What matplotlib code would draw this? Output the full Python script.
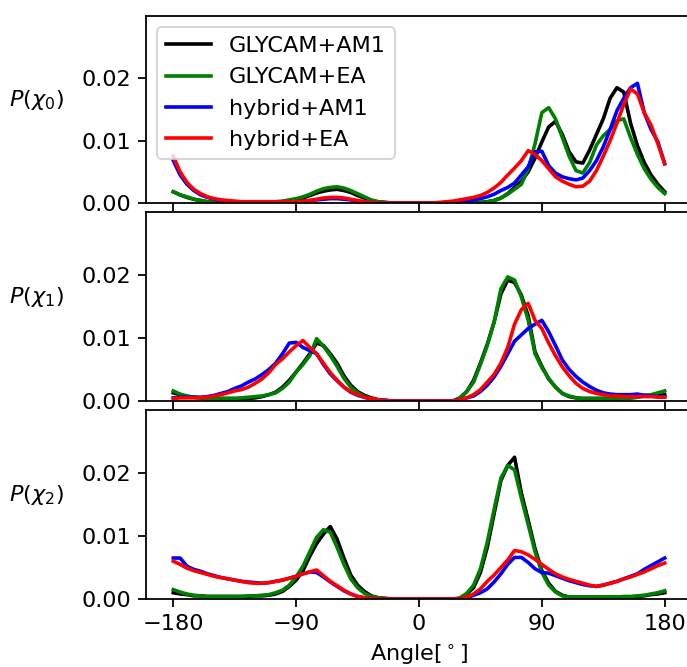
import numpy as np
import matplotlib
matplotlib.use("Agg")
import matplotlib.pyplot as plt
from matplotlib.ticker import FormatStrFormatter

# bin centres (degrees)
angles = np.arange(-180, 181, 5)

series_labels = ["GLYCAM+AM1", "GLYCAM+EA", "hybrid+AM1", "hybrid+EA"]
series_colors = ["k", "g", "b", "r"]
panel_ylabels = [r"$P(\chi_0)$", r"$P(\chi_1)$", r"$P(\chi_2)$"]
xtick_values = [-180, -90, 0, 90, 180]
ytick_values = [0.0, 0.01, 0.02]

# ---- chi0 ----
chi0_glycam_am1 = [
    0.0018, 0.0013, 0.0009, 0.0006, 0.0004, 0.0002, 0.0001, 0.0001, 0.0001, 0.0001, 0.0001, 0.0001,
    0.0001, 0.0001, 0.0001, 0.0001, 0.0002, 0.0003, 0.0005, 0.0008, 0.0012, 0.0016, 0.0019, 0.0021,
    0.0022, 0.0020, 0.0017, 0.0012, 0.0008, 0.0004, 0.0002, 0.0001, 0, 0, 0, 0,
    0, 0, 0, 0, 0, 0, 0, 0, 0, 0.0001, 0.0002, 0.0004,
    0.0008, 0.0015, 0.0025, 0.0035, 0.0050, 0.0072, 0.0098, 0.0122, 0.0131, 0.0110, 0.0082, 0.0066,
    0.0064, 0.0085, 0.0110, 0.0135, 0.0168, 0.0185, 0.0178, 0.0128, 0.0092, 0.0065, 0.0045, 0.0030,
    0.0018]
chi0_glycam_ea = [
    0.0018, 0.0013, 0.0010, 0.0006, 0.0004, 0.0002, 0.0001, 0.0001, 0.0001, 0.0001, 0.0001, 0.0001,
    0.0001, 0.0001, 0.0001, 0.0002, 0.0003, 0.0005, 0.0007, 0.0010, 0.0014, 0.0019, 0.0023, 0.0025,
    0.0026, 0.0024, 0.0020, 0.0015, 0.0010, 0.0005, 0.0002, 0.0001, 0, 0, 0, 0,
    0, 0, 0, 0, 0, 0, 0, 0, 0, 0, 0.0002, 0.0004,
    0.0008, 0.0014, 0.0022, 0.0030, 0.0055, 0.0095, 0.0145, 0.0153, 0.0135, 0.0105, 0.0075, 0.0052,
    0.0048, 0.0065, 0.0093, 0.0108, 0.0118, 0.0132, 0.0135, 0.0105, 0.0078, 0.0055, 0.0038, 0.0025,
    0.0015]
chi0_hybrid_am1 = [
    0.0068, 0.0045, 0.0030, 0.0020, 0.0013, 0.0009, 0.0006, 0.0004, 0.0003, 0.0002, 0.0002, 0.0002,
    0.0002, 0.0002, 0.0002, 0.0002, 0.0002, 0.0002, 0.0002, 0.0003, 0.0004, 0.0005, 0.0006, 0.0007,
    0.0007, 0.0006, 0.0005, 0.0003, 0.0002, 0.0001, 0, 0, 0, 0, 0, 0,
    0, 0, 0, 0, 0.0001, 0.0002, 0.0003, 0.0004, 0.0005, 0.0007, 0.0010, 0.0014,
    0.0020, 0.0025, 0.0032, 0.0045, 0.0058, 0.0082, 0.0083, 0.0060, 0.0048, 0.0042, 0.0039, 0.0037,
    0.0040, 0.0052, 0.0068, 0.0090, 0.0118, 0.0148, 0.0168, 0.0185, 0.0192, 0.0145, 0.0118, 0.0098,
    0.0063]
chi0_hybrid_ea = [
    0.0075, 0.0050, 0.0033, 0.0022, 0.0015, 0.0010, 0.0007, 0.0005, 0.0004, 0.0003, 0.0002, 0.0002,
    0.0002, 0.0002, 0.0002, 0.0002, 0.0002, 0.0002, 0.0002, 0.0003, 0.0004, 0.0006, 0.0008, 0.0009,
    0.0009, 0.0008, 0.0006, 0.0004, 0.0002, 0.0001, 0, 0, 0, 0, 0, 0,
    0, 0, 0, 0.0001, 0.0002, 0.0003, 0.0005, 0.0007, 0.0009, 0.0012, 0.0017, 0.0024,
    0.0033, 0.0045, 0.0056, 0.0068, 0.0084, 0.0078, 0.0068, 0.0055, 0.0042, 0.0035, 0.0030, 0.0026,
    0.0027, 0.0035, 0.0052, 0.0075, 0.0100, 0.0128, 0.0158, 0.0183, 0.0175, 0.0145, 0.0125, 0.0095,
    0.0063]

# ---- chi1 ----
chi1_glycam_am1 = [
    0.0013, 0.0010, 0.0007, 0.0006, 0.0005, 0.0004, 0.0004, 0.0004, 0.0004, 0.0004, 0.0004, 0.0004,
    0.0005, 0.0007, 0.0010, 0.0014, 0.0022, 0.0033, 0.0046, 0.0060, 0.0075, 0.0092, 0.0088, 0.0075,
    0.0060, 0.0040, 0.0025, 0.0015, 0.0009, 0.0005, 0.0002, 0.0001, 0, 0, 0, 0,
    0, 0, 0, 0, 0, 0, 0.0005, 0.0015, 0.0033, 0.0060, 0.0090, 0.0125,
    0.0170, 0.0192, 0.0188, 0.0168, 0.0135, 0.0078, 0.0055, 0.0035, 0.0022, 0.0012, 0.0007, 0.0005,
    0.0004, 0.0004, 0.0004, 0.0004, 0.0004, 0.0004, 0.0004, 0.0005, 0.0006, 0.0009, 0.0009, 0.0008,
    0.0010]
chi1_glycam_ea = [
    0.0016, 0.0011, 0.0008, 0.0006, 0.0005, 0.0004, 0.0004, 0.0004, 0.0004, 0.0004, 0.0005, 0.0006,
    0.0007, 0.0008, 0.0010, 0.0013, 0.0020, 0.0030, 0.0046, 0.0058, 0.0072, 0.0099, 0.0087, 0.0072,
    0.0055, 0.0036, 0.0022, 0.0013, 0.0007, 0.0004, 0.0002, 0.0001, 0, 0, 0, 0,
    0, 0, 0, 0, 0, 0, 0.0005, 0.0015, 0.0030, 0.0058, 0.0088, 0.0125,
    0.0178, 0.0197, 0.0192, 0.0165, 0.0128, 0.0075, 0.0053, 0.0036, 0.0022, 0.0012, 0.0008, 0.0005,
    0.0004, 0.0004, 0.0004, 0.0004, 0.0004, 0.0004, 0.0004, 0.0005, 0.0006, 0.0008, 0.0010, 0.0013,
    0.0016]
chi1_hybrid_am1 = [
    0.0005, 0.0006, 0.0006, 0.0006, 0.0006, 0.0007, 0.0009, 0.0012, 0.0015, 0.0020, 0.0024, 0.0030,
    0.0035, 0.0042, 0.0050, 0.0060, 0.0075, 0.0092, 0.0093, 0.0085, 0.0080, 0.0075, 0.0058, 0.0043,
    0.0032, 0.0022, 0.0014, 0.0009, 0.0006, 0.0003, 0.0002, 0.0001, 0, 0, 0, 0,
    0, 0, 0, 0, 0, 0, 0.0002, 0.0005, 0.0008, 0.0015, 0.0025, 0.0038,
    0.0055, 0.0075, 0.0095, 0.0105, 0.0115, 0.0122, 0.0128, 0.0110, 0.0088, 0.0065, 0.0050, 0.0039,
    0.0030, 0.0023, 0.0017, 0.0013, 0.0011, 0.0010, 0.0010, 0.0010, 0.0011, 0.0009, 0.0008, 0.0007,
    0.0007]
chi1_hybrid_ea = [
    0.0004, 0.0005, 0.0005, 0.0005, 0.0005, 0.0006, 0.0008, 0.0010, 0.0013, 0.0016, 0.0018, 0.0022,
    0.0028, 0.0035, 0.0045, 0.0058, 0.0067, 0.0078, 0.0088, 0.0096, 0.0085, 0.0075, 0.0060, 0.0045,
    0.0033, 0.0022, 0.0015, 0.0010, 0.0006, 0.0004, 0.0002, 0.0001, 0, 0, 0, 0,
    0, 0, 0, 0, 0, 0, 0.0002, 0.0005, 0.0010, 0.0018, 0.0030, 0.0042,
    0.0060, 0.0085, 0.0122, 0.0145, 0.0155, 0.0128, 0.0115, 0.0092, 0.0072, 0.0054, 0.0040, 0.0028,
    0.0020, 0.0015, 0.0012, 0.0010, 0.0008, 0.0008, 0.0007, 0.0007, 0.0007, 0.0007, 0.0007, 0.0006,
    0.0006]

# ---- chi2 ----
chi2_glycam_am1 = [
    0.0010, 0.0008, 0.0007, 0.0005, 0.0005, 0.0004, 0.0004, 0.0004, 0.0004, 0.0004, 0.0004, 0.0004,
    0.0005, 0.0005, 0.0006, 0.0008, 0.0012, 0.0020, 0.0030, 0.0045, 0.0068, 0.0088, 0.0103, 0.0115,
    0.0095, 0.0065, 0.0038, 0.0022, 0.0012, 0.0005, 0.0002, 0.0001, 0, 0, 0, 0,
    0, 0, 0, 0, 0, 0, 0, 0.0008, 0.0018, 0.0042, 0.0082, 0.0135,
    0.0188, 0.0212, 0.0225, 0.0168, 0.0125, 0.0080, 0.0045, 0.0025, 0.0012, 0.0006, 0.0003, 0.0003,
    0.0003, 0.0003, 0.0003, 0.0003, 0.0003, 0.0003, 0.0003, 0.0003, 0.0004, 0.0005, 0.0007, 0.0008,
    0.0010]
chi2_glycam_ea = [
    0.0015, 0.0011, 0.0008, 0.0006, 0.0005, 0.0004, 0.0004, 0.0004, 0.0004, 0.0004, 0.0004, 0.0005,
    0.0005, 0.0006, 0.0007, 0.0010, 0.0014, 0.0022, 0.0035, 0.0052, 0.0075, 0.0098, 0.0110, 0.0106,
    0.0082, 0.0055, 0.0032, 0.0018, 0.0009, 0.0004, 0.0002, 0.0001, 0, 0, 0, 0,
    0, 0, 0, 0, 0, 0, 0.0002, 0.0009, 0.0022, 0.0048, 0.0090, 0.0142,
    0.0192, 0.0212, 0.0205, 0.0160, 0.0118, 0.0075, 0.0042, 0.0022, 0.0011, 0.0005, 0.0003, 0.0003,
    0.0003, 0.0003, 0.0003, 0.0003, 0.0003, 0.0003, 0.0004, 0.0004, 0.0005, 0.0006, 0.0008, 0.0010,
    0.0013]
chi2_hybrid_am1 = [
    0.0065, 0.0065, 0.0052, 0.0047, 0.0044, 0.0040, 0.0037, 0.0034, 0.0032, 0.0030, 0.0028, 0.0027,
    0.0026, 0.0025, 0.0026, 0.0028, 0.0030, 0.0033, 0.0036, 0.0040, 0.0043, 0.0042, 0.0035, 0.0027,
    0.0020, 0.0013, 0.0008, 0.0004, 0.0002, 0.0001, 0, 0, 0, 0, 0, 0,
    0, 0, 0, 0, 0, 0, 0, 0.0002, 0.0006, 0.0010, 0.0016, 0.0027,
    0.0040, 0.0055, 0.0066, 0.0066, 0.0058, 0.0048, 0.0042, 0.0041, 0.0037, 0.0033, 0.0029, 0.0026,
    0.0023, 0.0021, 0.0020, 0.0022, 0.0025, 0.0028, 0.0032, 0.0036, 0.0040, 0.0047, 0.0053, 0.0059,
    0.0065]
chi2_hybrid_ea = [
    0.0060, 0.0055, 0.0049, 0.0045, 0.0042, 0.0039, 0.0036, 0.0034, 0.0032, 0.0030, 0.0028, 0.0026,
    0.0025, 0.0025, 0.0026, 0.0028, 0.0030, 0.0033, 0.0036, 0.0040, 0.0043, 0.0046, 0.0037, 0.0028,
    0.0021, 0.0014, 0.0008, 0.0004, 0.0002, 0.0001, 0, 0, 0, 0, 0, 0,
    0, 0, 0, 0, 0, 0, 0, 0.0003, 0.0008, 0.0016, 0.0028, 0.0038,
    0.0050, 0.0062, 0.0077, 0.0075, 0.0070, 0.0063, 0.0055, 0.0047, 0.0040, 0.0035, 0.0031, 0.0028,
    0.0025, 0.0022, 0.0020, 0.0022, 0.0025, 0.0028, 0.0032, 0.0035, 0.0039, 0.0043, 0.0048, 0.0053,
    0.0057]

panels = [
    [chi0_glycam_am1, chi0_glycam_ea, chi0_hybrid_am1, chi0_hybrid_ea],
    [chi1_glycam_am1, chi1_glycam_ea, chi1_hybrid_am1, chi1_hybrid_ea],
    [chi2_glycam_am1, chi2_glycam_ea, chi2_hybrid_am1, chi2_hybrid_ea],
]

SCALE = 1.12
plt.rcParams.update({
    "font.size": 10 * SCALE,
    "axes.linewidth": 0.8 * SCALE,
    "xtick.major.size": 3.5 * SCALE,
    "ytick.major.size": 3.5 * SCALE,
    "xtick.major.width": 0.8 * SCALE,
    "ytick.major.width": 0.8 * SCALE,
})

W, H, DPI = 687, 667, 144
fig = plt.figure(figsize=(W / DPI, H / DPI), dpi=DPI)

left_px = 146
width_px = 546
panel_px = [(16, 203), (212, 401), (410, 599)]

axes = []
for i, (top, bot) in enumerate(panel_px):
    rect = [left_px / W, 1 - bot / H, width_px / W, (bot - top) / H]
    ax = fig.add_axes(rect, sharex=axes[0] if axes else None)
    axes.append(ax)
    for vals, lab, col in zip(panels[i], series_labels, series_colors):
        ax.plot(angles, vals, color=col, lw=1.8, label=lab)
    ax.set_ylim(0, 0.03)
    ax.set_yticks(ytick_values)
    ax.yaxis.set_major_formatter(FormatStrFormatter('%.2f'))
    ax.set_ylabel(panel_ylabels[i], rotation=0, va='center', ha='center')
    ax.yaxis.set_label_coords(-0.2, 0.55)
    if i < 2:
        ax.tick_params(labelbottom=False)

axes[0].set_xlim(-200, 200)
axes[0].set_xticks(xtick_values)
axes[0].legend(loc='upper left')
axes[2].set_xlabel(r'Angle[$^\circ$]')

fig.savefig("out.png", dpi=DPI)
